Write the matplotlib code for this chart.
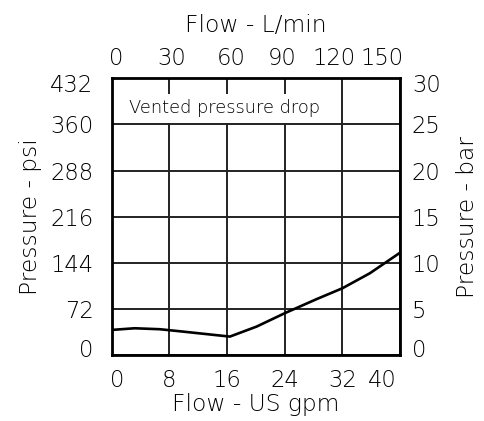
import numpy as np
import matplotlib
matplotlib.use("Agg")
from matplotlib import pyplot as plt
from matplotlib.transforms import ScaledTranslation

# curve
flow_gpm = [0, 3.2, 6.7, 9.9, 16.4, 20.1, 24.0, 28.4, 32.0, 35.8, 40]
pressure_psi = [39, 41.6, 40.1, 36.4, 28.6, 44.2, 65.1, 87.0, 104.1, 127.5, 159.7]

gpm_ticks = [0, 8, 16, 24, 32, 40]
psi_ticks = [0, 72, 144, 216, 288, 360, 432]
lpm_ticks = [0, 30, 60, 90, 120, 150]
bar_ticks = [0, 5, 10, 15, 20, 25, 30]

GPM_TO_LPM = 3.785

plt.rcParams['font.family'] = ['DejaVu Sans']
plt.rcParams['font.weight'] = 'light'
plt.rcParams['axes.labelweight'] = 'light'
plt.rcParams['font.size'] = 16.3
plt.rcParams['axes.labelsize'] = 16.8

fig = plt.figure(figsize=(4.85, 4.21), dpi=100)
ax = fig.add_axes([0.230, 0.157, 0.595, 0.657])

ax.plot(flow_gpm, pressure_psi, color='black', lw=1.9)
ax.set_xlim(0, 40)
ax.set_ylim(0, 432)
ax.set_xticks(gpm_ticks)
ax.set_yticks(psi_ticks)
ax.grid(True, color='#222222', lw=1.4)
ax.tick_params(axis='x', length=0, pad=10, colors='black')
ax.tick_params(axis='y', length=0, pad=13, colors='black')
ax.set_xlabel('Flow - US gpm', labelpad=1)
ax.set_ylabel('Pressure - psi', labelpad=6)
for s in ax.spines.values():
    s.set_linewidth(2)

ax.text(2.4, 385, 'Vented pressure drop', fontsize=12.9, va='center', ha='left',
        bbox=dict(facecolor='white', edgecolor='none', pad=4))

top = ax.secondary_xaxis('top', functions=(lambda x: x * GPM_TO_LPM, lambda x: x / GPM_TO_LPM))
top.set_xticks(lpm_ticks)
top.tick_params(length=0, pad=6)
top.set_xlabel('Flow - L/min', labelpad=11)

right = ax.twinx()
right.set_ylim(0, 30)
right.set_yticks(bar_ticks)
right.tick_params(length=0, pad=8.5)
right.set_ylabel('Pressure - bar', labelpad=11)


def nudge(label, dx=0, dy=0):
    # shift a tick label by some pixels
    label.set_transform(label.get_transform() + ScaledTranslation(dx / 100, dy / 100, fig.dpi_scale_trans))


# edge labels are pulled inside the frame
bl = ax.get_xticklabels()
nudge(bl[0], dx=6)
nudge(bl[-1], dx=-18)
tl = top.get_xticklabels()
nudge(tl[0], dx=5)
nudge(tl[1], dx=3)
nudge(tl[2], dx=5)
nudge(tl[3], dx=-1)
nudge(tl[4], dx=-6)
nudge(tl[5], dx=-15)
for lbls in (ax.get_yticklabels(), right.get_yticklabels()):
    nudge(lbls[0], dy=7)
    nudge(lbls[-1], dy=-5)

fig.savefig('out.png', dpi=100)
